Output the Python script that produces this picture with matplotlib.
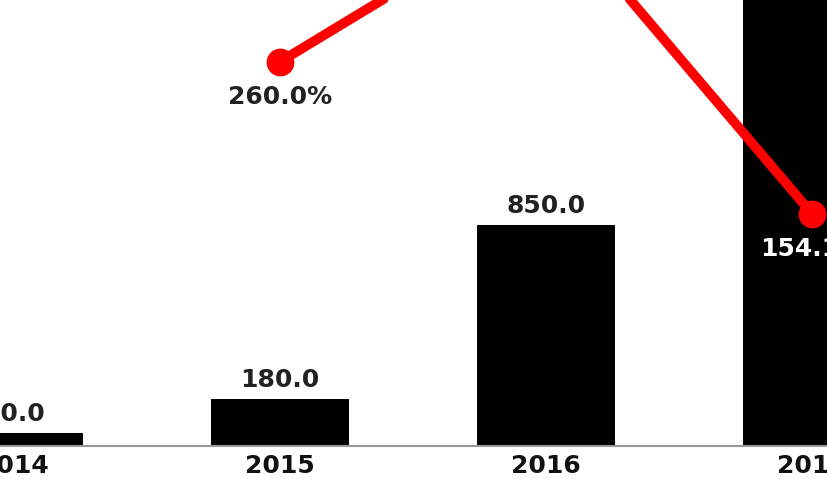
import numpy as np
import matplotlib.pyplot as plt

# values (2017 bar runs past the top of the crop)
years = ["2014", "2015", "2016", "2017"]
volume = [50.0, 180.0, 850.0, 2160.0]
growth = [np.nan, 260.0, 372.2, 154.1]

x = np.arange(len(years))

fig = plt.figure(figsize=(8.28, 4.79), dpi=100)
ax = fig.add_axes([0, 33 / 479, 1, 446 / 479])

ax.bar(x, volume, width=0.52, color="black", zorder=2)
for xi, v in zip(x, volume):
    ax.annotate(f"{v:.1f}", (xi, v), xytext=(0, 5), textcoords="offset points",
                ha="center", va="bottom", fontsize=18, fontweight="bold",
                color="#222222", clip_on=True)

ax.set_xlim(-0.053, 3.06)
ax.set_ylim(0, 1715)
ax.set_xticks(x)
ax.set_xticklabels(years, fontsize=18, fontweight="bold", color="#111111")
ax.tick_params(axis="x", length=0, pad=6)
ax.set_yticks([])
for s in ["top", "left", "right"]:
    ax.spines[s].set_visible(False)
ax.spines["bottom"].set_color("#999999")
ax.spines["bottom"].set_linewidth(1.5)

ax2 = ax.twinx()
ax2.plot(x, growth, color="#ff0000", lw=7, marker="o", markersize=19,
         solid_capstyle="round", zorder=3)
ax2.set_ylim(-7.7, 303)
ax2.set_yticks([])
for s in ax2.spines.values():
    s.set_visible(False)

label_colors = [None, "#222222", "#222222", "white"]
for xi, g, c in zip(x, growth, label_colors):
    if np.isnan(g):
        continue
    ax2.annotate(f"{g:.1f}%", (xi, g), xytext=(0, -17), textcoords="offset points",
                 ha="center", va="top", fontsize=18, fontweight="bold", color=c)

fig.savefig("out.png", dpi=100)
